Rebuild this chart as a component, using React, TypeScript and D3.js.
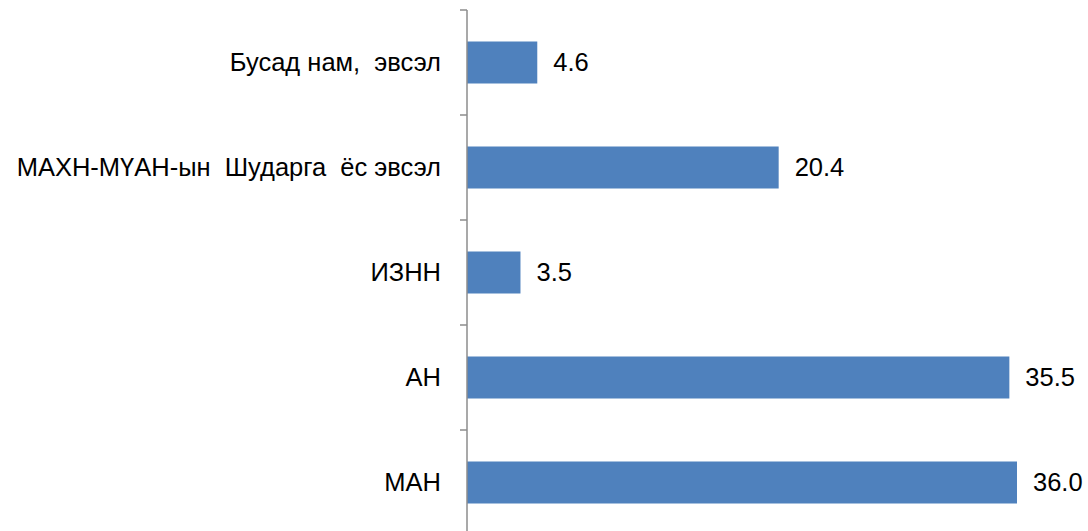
import React, { useEffect, useRef } from "react";
import * as d3 from "d3";

const categories = [
  "Бусад нам,  эвсэл",
  "МАХН-МҮАН-ын  Шударга  ёс эвсэл",
  "ИЗНН",
  "АН",
  "МАН",
];
const values = [4.6, 20.4, 3.5, 35.5, 36.0];

const W = 1088;
const H = 531;

export default function App() {
  const ref = useRef<SVGSVGElement>(null);
  useEffect(() => {
    const svg = d3.select(ref.current);
    svg.selectAll("*").remove();
    const x0 = 467;
    const x = d3.scaleLinear().domain([0, 36]).range([x0, 1017]);
    const y = d3.scaleBand<string>().domain(categories).range([10, 535]).paddingInner(0.6).paddingOuter(0.3);

    const g = svg.append("g");
    g.selectAll("rect.bar")
      .data(values)
      .join("rect")
      .attr("class", "bar")
      .attr("x", x(0))
      .attr("y", (_, i) => y(categories[i])!)
      .attr("width", (d) => x(d) - x(0))
      .attr("height", y.bandwidth())
      .attr("fill", "#4F81BD");

    const step = y.step();
    g.append("line")
      .attr("x1", x0).attr("x2", x0)
      .attr("y1", 10).attr("y2", H)
      .attr("stroke", "#8c8c8c").attr("stroke-width", 1.5);
    const tickYs = d3.range(categories.length + 1).map((i) => 10 + i * step);
    g.selectAll("line.tick")
      .data(tickYs)
      .join("line")
      .attr("class", "tick")
      .attr("x1", x0 - 7).attr("x2", x0)
      .attr("y1", (d) => d).attr("y2", (d) => d)
      .attr("stroke", "#8c8c8c").attr("stroke-width", 1.5);

    g.selectAll("text.cat")
      .data(categories)
      .join("text")
      .attr("class", "cat")
      .attr("x", 441)
      .attr("y", (d) => y(d)! + y.bandwidth() / 2)
      .attr("dy", "0.35em")
      .attr("text-anchor", "end")
      .attr("font-family", "Liberation Sans, Arial, sans-serif")
      .attr("font-size", 25.5)
      .attr("fill", "#000")
      .style("white-space", "pre")
      .text((d) => d);

    g.selectAll("text.val")
      .data(values)
      .join("text")
      .attr("class", "val")
      .attr("x", (d) => x(d) + 16)
      .attr("y", (_, i) => y(categories[i])! + y.bandwidth() / 2)
      .attr("dy", "0.35em")
      .attr("font-family", "Liberation Sans, Arial, sans-serif")
      .attr("font-size", 25.5)
      .attr("fill", "#000")
      .text((d) => d.toFixed(1));
  }, []);
  return (
    <svg
      ref={ref}
      width={W}
      height={H}
      style={{ position: "absolute", left: 0, top: 0, background: "#fff" }}
    />
  );
}
